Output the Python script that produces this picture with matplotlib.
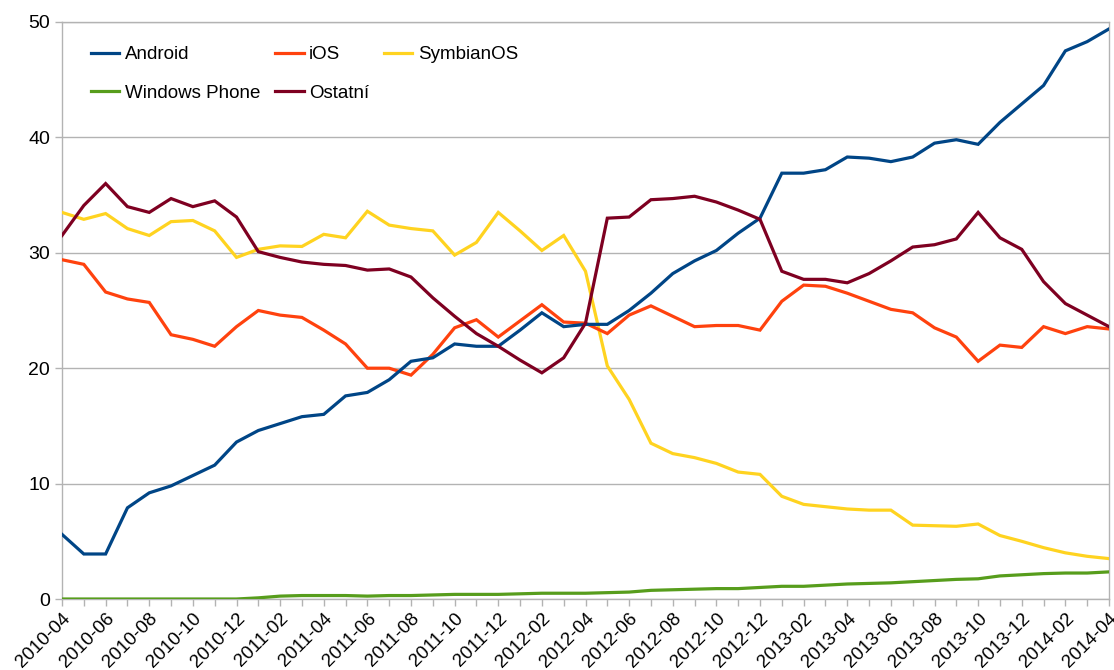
import matplotlib
matplotlib.use("Agg")
import matplotlib.pyplot as plt
import numpy as np

plt.rcParams["font.family"] = ["Liberation Sans", "DejaVu Sans"]

# monthly 2010-04 .. 2014-04
months = [f"{y}-{m:02d}" for y in range(2010, 2015) for m in range(1, 13)]
months = months[months.index("2010-04"):months.index("2014-04") + 1]

android = [5.6, 3.9, 3.9, 7.9, 9.2, 9.8, 10.7, 11.6, 13.6, 14.6, 15.2, 15.8, 16.0,
           17.6, 17.9, 19.0, 20.6, 20.9, 22.1, 21.9, 21.9, 23.3, 24.8, 23.6, 23.8,
           23.8, 25.0, 26.5, 28.2, 29.3, 30.2, 31.7, 33.0, 36.9, 36.9, 37.2, 38.3,
           38.2, 37.9, 38.3, 39.5, 39.8, 39.4, 41.3, 42.9, 44.5, 47.5, 48.3, 49.4]
ios = [29.4, 29.0, 26.6, 26.0, 25.7, 22.9, 22.5, 21.9, 23.6, 25.0, 24.6, 24.4, 23.3,
       22.1, 20.0, 20.0, 19.4, 21.2, 23.5, 24.2, 22.7, 24.1, 25.5, 24.0, 23.9,
       23.0, 24.6, 25.4, 24.5, 23.6, 23.7, 23.7, 23.3, 25.8, 27.2, 27.1, 26.5,
       25.8, 25.1, 24.8, 23.5, 22.7, 20.6, 22.0, 21.8, 23.6, 23.0, 23.6, 23.4]
symbian = [33.5, 32.9, 33.4, 32.1, 31.5, 32.7, 32.8, 31.9, 29.6, 30.3, 30.6, 30.55, 31.6,
           31.3, 33.6, 32.4, 32.1, 31.9, 29.8, 30.9, 33.5, 31.9, 30.2, 31.5, 28.4,
           20.2, 17.3, 13.5, 12.6, 12.25, 11.75, 11.0, 10.8, 8.9, 8.2, 8.0, 7.8,
           7.7, 7.7, 6.4, 6.35, 6.3, 6.5, 5.5, 5.0, 4.45, 4.0, 3.7, 3.5]
winphone = [0.0, 0.0, 0.0, 0.0, 0.0, 0.0, 0.0, 0.0, 0.0, 0.1, 0.25, 0.3, 0.3,
            0.3, 0.25, 0.3, 0.3, 0.35, 0.4, 0.4, 0.4, 0.45, 0.5, 0.5, 0.5,
            0.55, 0.6, 0.75, 0.8, 0.85, 0.9, 0.9, 1.0, 1.1, 1.1, 1.2, 1.3,
            1.35, 1.4, 1.5, 1.6, 1.7, 1.75, 2.0, 2.1, 2.2, 2.25, 2.25, 2.35]
ostatni = [31.5, 34.1, 36.0, 34.0, 33.5, 34.7, 34.0, 34.5, 33.1, 30.1, 29.6, 29.2, 29.0,
           28.9, 28.5, 28.6, 27.9, 26.1, 24.5, 23.0, 21.9, 20.7, 19.6, 20.9, 23.9,
           33.0, 33.1, 34.6, 34.7, 34.9, 34.4, 33.7, 32.9, 28.4, 27.7, 27.7, 27.4,
           28.2, 29.3, 30.5, 30.7, 31.2, 33.5, 31.3, 30.3, 27.5, 25.6, 24.6, 23.6]

series = [
    ("Android", android, "#004586"),
    ("Windows Phone", winphone, "#579d1c"),
    ("iOS", ios, "#ff420e"),
    ("Ostatní", ostatni, "#7e0021"),
    ("SymbianOS", symbian, "#ffd320"),
]
draw_order = ["Windows Phone", "SymbianOS", "iOS", "Android", "Ostatní"]

fig = plt.figure(figsize=(11.14, 6.70), dpi=100)
ax = fig.add_axes([62 / 1114, 1 - 599 / 670, (1109 - 62) / 1114, (599 - 22) / 670])

x = np.arange(len(months))
lines = {}
for name, vals, color in series:
    (ln,) = ax.plot(x, vals, color=color, lw=2.3, label=name,
                    zorder=3 + draw_order.index(name), solid_joinstyle="miter")
    lines[name] = ln

ax.set_xlim(0, len(months) - 1)
ax.set_ylim(0, 50)
ax.set_yticks(range(0, 51, 10))
ax.set_xticks(x[::2])
ax.set_xticklabels(months[::2], rotation=45, ha="right", rotation_mode="anchor")
ax.set_xticks(x, minor=True)
ax.tick_params(axis="both", labelsize=14, color="#b3b3b3", length=5, width=1)
ax.tick_params(axis="x", labelsize=13.5, pad=3)
ax.tick_params(axis="x", which="minor", color="#b3b3b3", length=5, width=1)
ax.grid(axis="y", color="#b3b3b3", lw=1)
ax.set_axisbelow(True)
for sp in ax.spines.values():
    sp.set_color("#b3b3b3")
    sp.set_linewidth(1)

handles = [lines[n] for n, _, _ in series]
ax.legend(handles=handles, loc="upper left", bbox_to_anchor=(0.028, 0.958),
          ncol=3, frameon=False, fontsize=13.5, handlelength=1.5, handletextpad=0.3,
          columnspacing=0.8, labelspacing=1.15, borderpad=0, borderaxespad=0)

fig.savefig("out.png", dpi=100)
